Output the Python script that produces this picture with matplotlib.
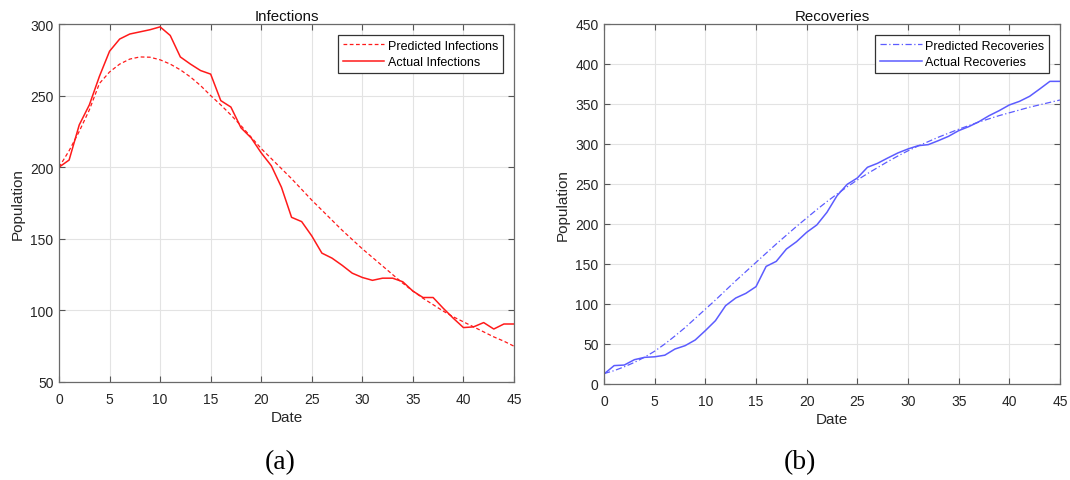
import numpy as np
import matplotlib; matplotlib.use("Agg"); import matplotlib.pyplot as plt

plt.rcParams["font.family"] = ["Liberation Sans", "DejaVu Sans"]

days = np.arange(0, 46)
inf_actual = [200, 205, 229.5, 243.5, 263.5, 281, 289.5, 293, 294.5, 296, 298, 292, 277, 272, 267.5, 265,
              246.5, 242, 227.5, 220.5, 210, 201, 186, 165, 162, 152, 140, 136.5, 131.5, 126, 123, 121,
              122.5, 122.5, 120, 113.5, 109, 109, 101.5, 94.5, 88, 88.5, 91.5, 87, 90.5, 90.5]
inf_pred = [200, 211.5, 225, 240, 258.5, 266.5, 272, 275.5, 277, 276.8, 275, 272, 268, 263, 257, 250,
            243.5, 236.5, 229, 221, 213, 206, 199, 192, 184.5, 177, 170, 163, 156, 149.5, 143, 137,
            131, 125, 119, 113.5, 108.5, 104, 99.5, 95.5, 92, 88.5, 85, 81.5, 78.5, 75]
rec_actual = [12.5, 23, 23.7, 30.4, 33.3, 34, 36, 43.7, 47.9, 55, 66.7, 79.2, 97.9, 107.5, 113.3, 121.7,
              147, 153.3, 168.7, 177.9, 189.6, 198.8, 214.6, 235.4, 249.6, 257.5, 270.9, 275.9, 282.5,
              288.8, 293.8, 297.9, 299.2, 304.2, 309.6, 316.7, 321.7, 327.9, 335.4, 341.7, 348.8, 353.3,
              359.6, 368.8, 378.3, 378.3]
rec_pred = [13, 16.7, 21.5, 27, 33.5, 41, 50, 60, 70.5, 82, 93.5, 105, 117, 129, 140.5, 152, 163.5, 175,
            186, 197, 207.5, 218, 228, 237.5, 246.5, 255, 263, 270.5, 278, 285, 291.5, 297.5, 303, 308.5,
            313.5, 318.5, 323, 327.5, 331.5, 335.5, 339, 342.5, 346, 349, 352, 355]

red = "#ff1a1a"; blue = "#5c5cff"
fig = plt.figure(figsize=(10.7, 4.81), dpi=100)
ax1 = fig.add_axes([59/1070, 1-383/481, 455/1070, 358/481])
ax2 = fig.add_axes([604/1070, 1-385/481, 456/1070, 360/481])

ax1.plot(days, inf_pred, color=red, ls=(0, (3, 2)), lw=0.9, label="Predicted Infections")
ax1.plot(days, inf_actual, color=red, lw=1.1, label="Actual Infections")
ax2.plot(days, rec_pred, color=blue, ls=(0, (5, 2, 1, 2)), lw=0.9, label="Predicted Recoveries")
ax2.plot(days, rec_actual, color=blue, lw=1.1, label="Actual Recoveries")

for ax, title, ylim, yt in [(ax1, "Infections", (50, 300), np.arange(50, 301, 50)),
                            (ax2, "Recoveries", (0, 450), np.arange(0, 451, 50))]:
    ax.set_xlim(0, 45); ax.set_ylim(*ylim)
    ax.set_xticks(np.arange(0, 46, 5)); ax.set_yticks(yt)
    ax.set_title(title, fontsize=10.8, color="#111", pad=3)
    ax.set_xlabel("Date", fontsize=11, color="#262626", labelpad=3)
    ax.set_ylabel("Population", fontsize=11, color="#262626", labelpad=4)
    ax.grid(True, color="#e3e3e3", lw=0.8)
    ax.set_axisbelow(True)
    ax.tick_params(direction="in", length=4, width=0.8, top=True, right=True,
                   labelsize=10, colors="#555", labelcolor="#262626")
    ax.tick_params(axis="x", pad=7)
    ax.tick_params(axis="y", pad=4)
    for s in ax.spines.values():
        s.set_color("#6a6a6a"); s.set_linewidth(0.9)
    leg = ax.legend(loc="upper right", fontsize=9, fancybox=False, framealpha=1,
                    edgecolor="#333", handlelength=3.3, borderpad=0.4, labelspacing=0.35,
                    handletextpad=0.3, borderaxespad=0.85)
    leg.get_frame().set_linewidth(0.9)

fig.text(280/1070, 1-463/481, "(a)", family="Liberation Serif", fontsize=20, ha="center", va="center")
fig.text(800/1070, 1-463/481, "(b)", family="Liberation Serif", fontsize=20, ha="center", va="center")
fig.savefig("out.png", dpi=100)
